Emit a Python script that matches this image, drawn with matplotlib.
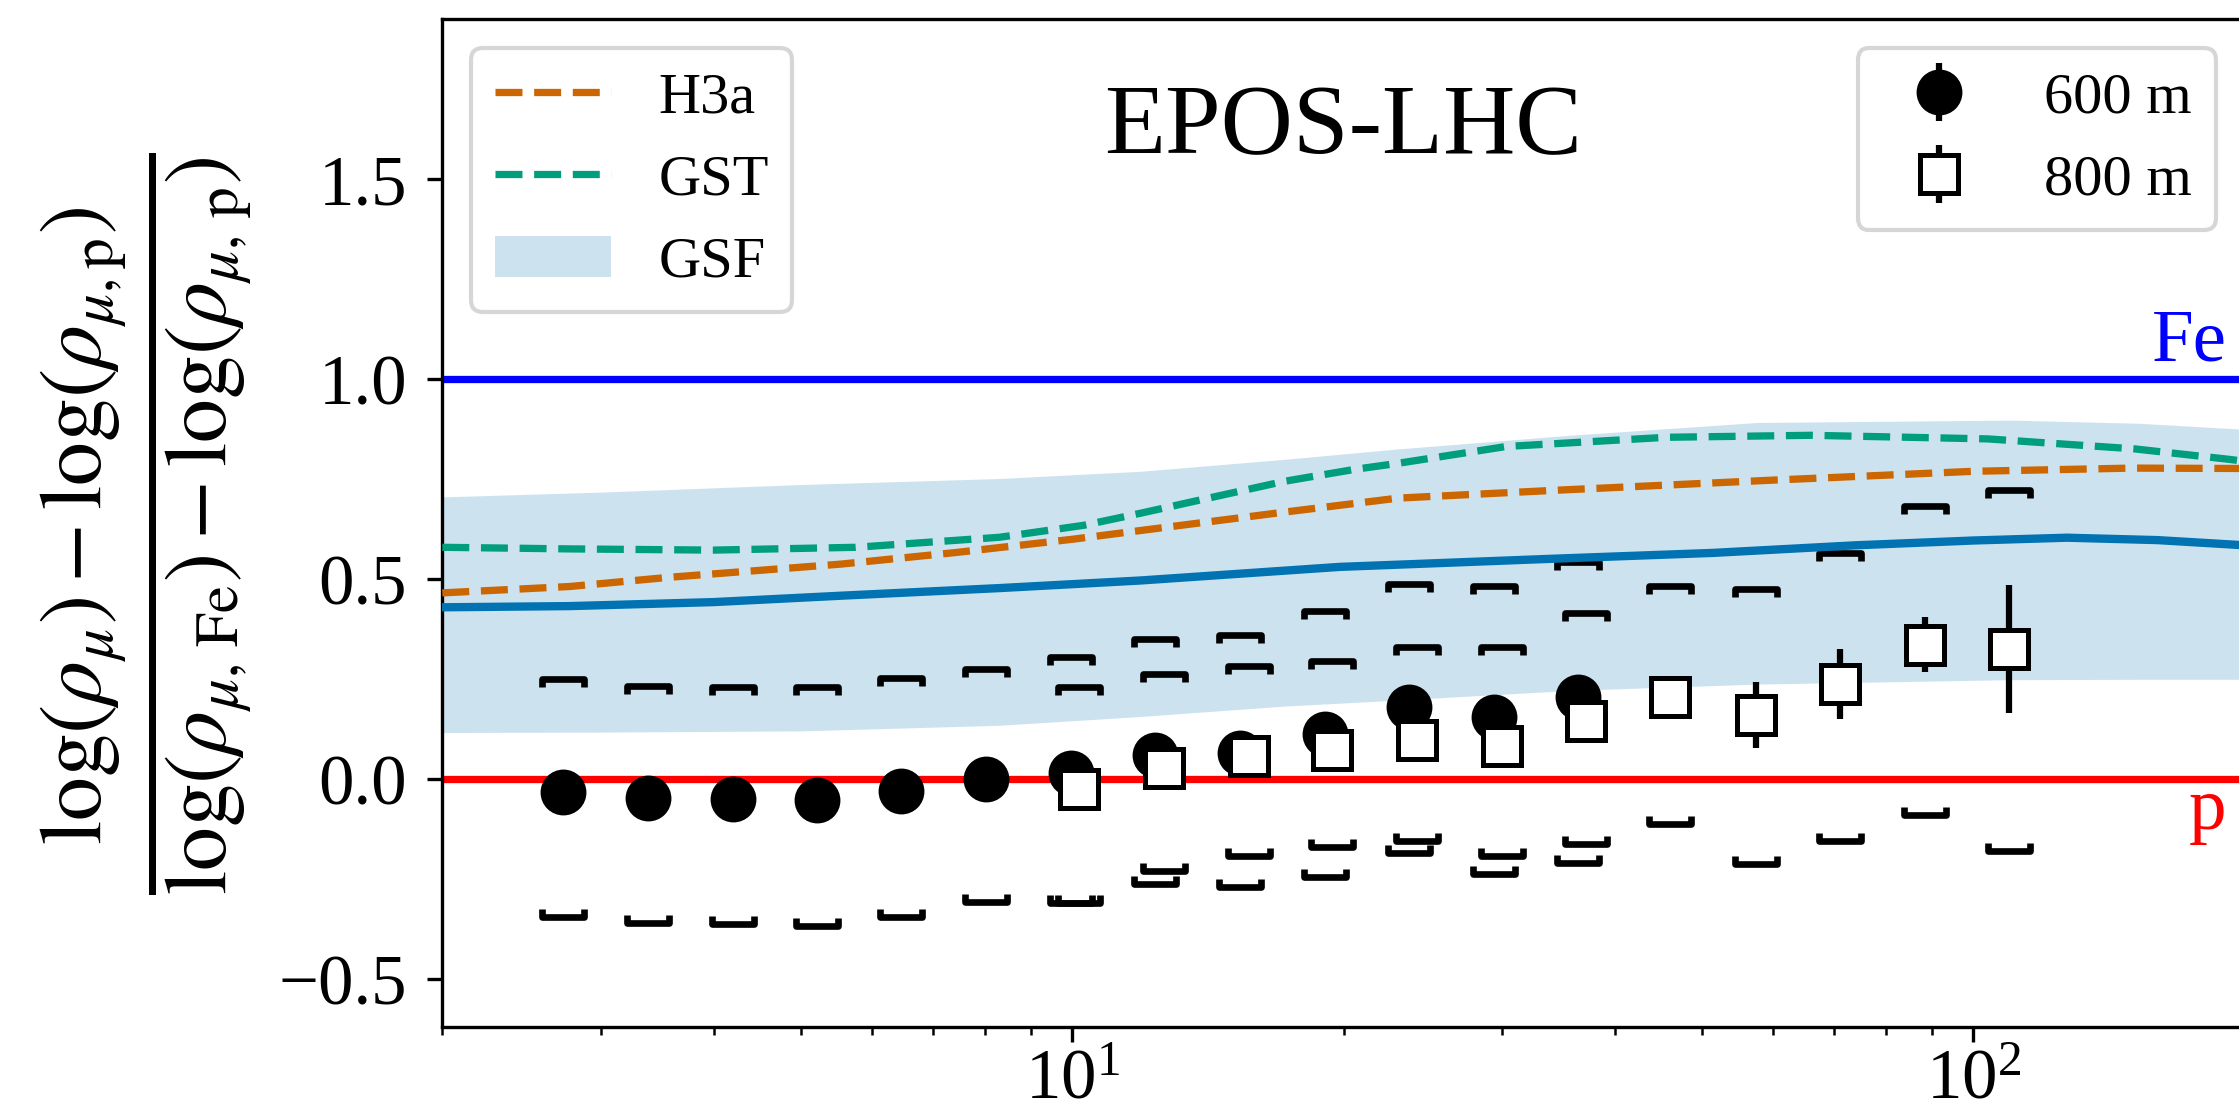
import numpy as np
import matplotlib
matplotlib.use('Agg')
import matplotlib.pyplot as plt
from matplotlib.path import Path

plt.rcParams['font.family'] = 'serif'
plt.rcParams['font.serif'] = ['Liberation Serif', 'DejaVu Serif']
plt.rcParams['mathtext.fontset'] = 'stix'

# ---------------- data ----------------
# 600 m
x600 = [2.72, 3.38, 4.20, 5.21, 6.46, 8.03, 9.96, 12.37, 15.37, 19.08, 23.66, 29.37, 36.41]
y600 = [-0.031, -0.046, -0.048, -0.052, -0.029, 0.001, 0.015, 0.062, 0.066, 0.113, 0.18, 0.155, 0.207]
e600 = [0.01, 0.01, 0.01, 0.01, 0.01, 0.012, 0.012, 0.015, 0.015, 0.018, 0.02, 0.02, 0.025]
sys_up_600 = [0.251, 0.234, 0.231, 0.230, 0.254, 0.277, 0.306, 0.351, 0.361, 0.421, 0.488, 0.484, 0.544]
sys_lo_600 = [-0.345, -0.359, -0.362, -0.366, -0.345, -0.306, -0.308, -0.262, -0.270, -0.245, -0.183, -0.237, -0.208]

# 800 m
x800 = [10.17, 12.63, 15.70, 19.43, 24.14, 29.95, 37.21, 46.11, 57.31, 71.09, 88.36, 109.5]
y800 = [-0.024, 0.028, 0.059, 0.074, 0.099, 0.084, 0.146, 0.206, 0.161, 0.238, 0.337, 0.327]
e800 = [0.015, 0.015, 0.018, 0.02, 0.022, 0.025, 0.03, 0.045, 0.082, 0.088, 0.069, 0.16]
sys_up_800 = [0.230, 0.263, 0.284, 0.296, 0.330, 0.330, 0.416, 0.483, 0.477, 0.567, 0.684, 0.723]
sys_lo_800 = [-0.308, -0.229, -0.191, -0.170, -0.154, -0.191, -0.162, -0.111, -0.212, -0.154, -0.089, -0.179]

# models
h3a_x = [2, 2.77, 3.57, 5.54, 7.43, 10, 13, 17.2, 23, 34.7, 60, 100, 150, 200]
h3a_y = [0.466, 0.482, 0.505, 0.538, 0.567, 0.60, 0.633, 0.668, 0.703, 0.723, 0.748, 0.770, 0.778, 0.777]

gst_x = [2, 2.77, 4.0, 5.75, 8.3, 10.3, 11.9, 14.3, 17.2, 20.6, 23, 30.3, 45.6, 66, 103.7, 151, 192, 200]
gst_y = [0.58, 0.576, 0.573, 0.58, 0.605, 0.635, 0.665, 0.705, 0.745, 0.775, 0.79, 0.832, 0.855, 0.86, 0.851,
         0.826, 0.80, 0.795]

gsf_x = [2, 2.77, 4.0, 5.54, 8.3, 11.9, 19.8, 34.7, 51.4, 74, 100, 127, 160, 200]
gsf_y = [0.43, 0.433, 0.443, 0.459, 0.478, 0.497, 0.531, 0.552, 0.566, 0.585, 0.597, 0.604, 0.598, 0.585]

band_x = [2, 3, 5, 8.3, 11.9, 17.2, 23, 35.6, 57.5, 110, 153, 200]
band_hi = [0.706, 0.718, 0.737, 0.752, 0.77, 0.80, 0.826, 0.86, 0.892, 0.898, 0.89, 0.875]
band_lo = [0.117, 0.118, 0.121, 0.135, 0.157, 0.183, 0.198, 0.222, 0.238, 0.249, 0.25, 0.25]

# ---------------- plotting ----------------
W, H = 2239, 1116
fig = plt.figure(figsize=(W / 300, H / 300), dpi=300)
ax = fig.add_axes([442.3 / W, 1 - 1027.3 / H, 1802.4 / W, 1008 / H])

band = ax.fill_between(band_x, band_lo, band_hi, color='#0173b2', alpha=0.2, lw=0, label='GSF')
ax.plot(gsf_x, gsf_y, color='#0173b2', lw=2, zorder=3)
h3a, = ax.plot(h3a_x, h3a_y, '--', color='#cc6600', lw=1.75, label='H3a', zorder=3)
gst, = ax.plot(gst_x, gst_y, '--', color='#009e7c', lw=1.75, label='GST', zorder=3)

ax.axhline(1.0, color='blue', lw=1.75, zorder=2)
ax.axhline(0.0, color='red', lw=1.75, zorder=2)

# systematic brackets
up_br = Path([(-0.5, -0.2), (-0.5, 0), (0.5, 0), (0.5, -0.2)])
lo_br = Path([(-0.5, 0.2), (-0.5, 0), (0.5, 0), (0.5, 0.2)])
for xs, ys, m in [(x600, sys_up_600, up_br), (x600, sys_lo_600, lo_br),
                  (x800, sys_up_800, up_br), (x800, sys_lo_800, lo_br)]:
    ax.plot(xs, ys, ls='none', marker=m, ms=10, mfc='none', mec='k', mew=1.6, zorder=2.5)

p600 = ax.errorbar(x600, y600, yerr=e600, fmt='o', color='k', ms=10, elinewidth=1.5,
                   capsize=0, label='600 m', zorder=4)
p800 = ax.errorbar(x800, y800, yerr=e800, fmt='s', mfc='white', mec='k', ecolor='k', ms=9,
                   mew=1.2, elinewidth=1.5, capsize=0, label='800 m', zorder=5)

ax.set_xscale('log')
ax.set_xlim(2, 200)
ax.set_ylim(-0.62, 1.9)
ax.set_yticks([-0.5, 0.0, 0.5, 1.0, 1.5])
ax.tick_params(labelsize=17)
ax.tick_params(axis='y', pad=5)
ax.tick_params(axis='x', pad=1.5)

ax.text(191, 1.047, 'Fe', color='blue', fontsize=18, ha='right', va='baseline')
ax.text(191, -0.125, 'p', color='red', fontsize=18, ha='right', va='baseline')
ax.text(0.5, 0.867, 'EPOS-LHC', transform=ax.transAxes, fontsize=24, ha='center', va='baseline')

ax.set_ylabel(r'$\frac{\log(\rho_{\mu}) - \log(\rho_{\mu,\mathrm{p}})}'
              r'{\log(\rho_{\mu,\,\mathrm{Fe}}) - \log(\rho_{\mu,\,\mathrm{p}})}$',
              fontsize=30, labelpad=6)

leg1 = ax.legend(handles=[h3a, gst, band], loc='upper left', fontsize=14)
ax.add_artist(leg1)
ax.legend(handles=[p600, p800], loc='upper right', fontsize=14)

fig.savefig('out.png', dpi=300)
